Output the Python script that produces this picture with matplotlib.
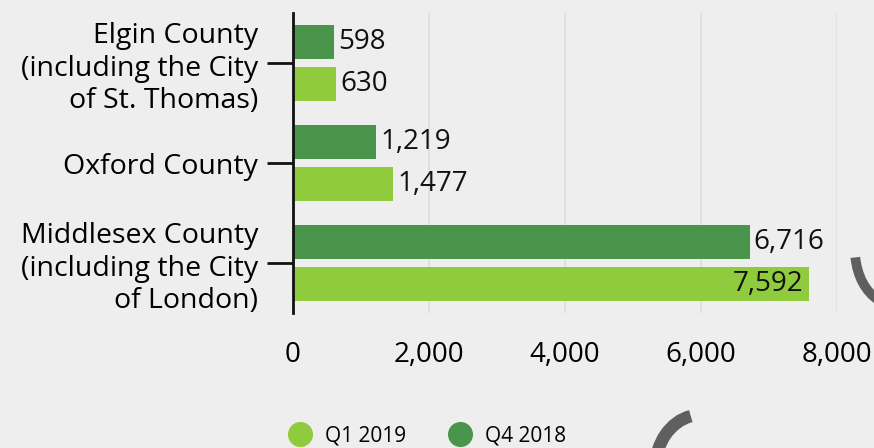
import matplotlib
matplotlib.use("Agg")
import matplotlib.pyplot as plt
from matplotlib.patches import Arc
from matplotlib.lines import Line2D

categories = ["Elgin County\n(including the City\nof St. Thomas)",
              "Oxford County",
              "Middlesex County\n(including the City\nof London)"]
q4_2018 = [598, 1219, 6716]
q1_2019 = [630, 1477, 7592]
series_names = ["Q1 2019", "Q4 2018"]
xticks = [0, 2000, 4000, 6000, 8000]
xtick_labels = ["0", "2,000", "4,000", "6,000", "8,000"]

dark = "#4b944c"
light = "#8fcb3c"
bg = "#eeeeee"

plt.rcParams['font.family'] = ['Open Sans', 'DejaVu Sans']

fig = plt.figure(figsize=(8.74, 4.48), dpi=100, facecolor=bg)
ax = fig.add_axes([293/874, 1-313/448, (837-293)/874, 300/448])
ax.set_facecolor(bg)

y = list(range(len(categories)))
h = 0.34
off = 0.21
ax.barh([v - off for v in y], q4_2018, height=h, color=dark, zorder=3)
ax.barh([v + off for v in y], q1_2019, height=h, color=light, zorder=3)

vfs = 20
for i, (a, b) in enumerate(zip(q4_2018, q1_2019)):
    for val, yy in ((a, i - off), (b, i + off)):
        s = f"{val:,}"
        if val > 7000:
            ax.text(val - 80, yy, s, ha="right", va="center", fontsize=vfs, color="#111111", zorder=4)
        else:
            ax.text(val + 60, yy, s, ha="left", va="center", fontsize=vfs, color="#111111", zorder=4)

ax.set_xlim(0, 8000)
ax.set_ylim(2.5, -0.5)
ax.set_yticks(y)
ax.set_yticklabels(categories, fontsize=20.5, linespacing=1.2)
ax.set_xticks(xticks)
ax.set_xticklabels(xtick_labels, fontsize=20)
ax.tick_params(axis="y", length=19, width=2, color="#111111", pad=6)
ax.tick_params(axis="x", length=0, pad=20)
ax.grid(axis="x", color="#e0e0e0", linewidth=1.5, zorder=0)
for s in ["top", "right", "bottom"]:
    ax.spines[s].set_visible(False)
ax.spines["left"].set_linewidth(2)
ax.spines["left"].set_color("#111111")
ax.spines["left"].set_zorder(5)

handles = [Line2D([], [], marker="o", linestyle="", markersize=17, color=light),
           Line2D([], [], marker="o", linestyle="", markersize=17, color=dark)]
fig.legend(handles, series_names, loc="center", bbox_to_anchor=(423/874, 1-436/448),
           ncol=2, frameon=False, fontsize=15, handletextpad=0.2, columnspacing=1.6)

# decorative logo fragments
fig.patches.append(Arc((700/874, 1-470/448), 90/874, 110/448, theta1=95, theta2=175,
                       transform=fig.transFigure, color="#5f5f5f", linewidth=9))
fig.patches.append(Arc((895/874, 1-250/448), 80/874, 110/448, theta1=200, theta2=260,
                       transform=fig.transFigure, color="#5f5f5f", linewidth=7))

fig.savefig("out.png", dpi=100, facecolor=bg)
